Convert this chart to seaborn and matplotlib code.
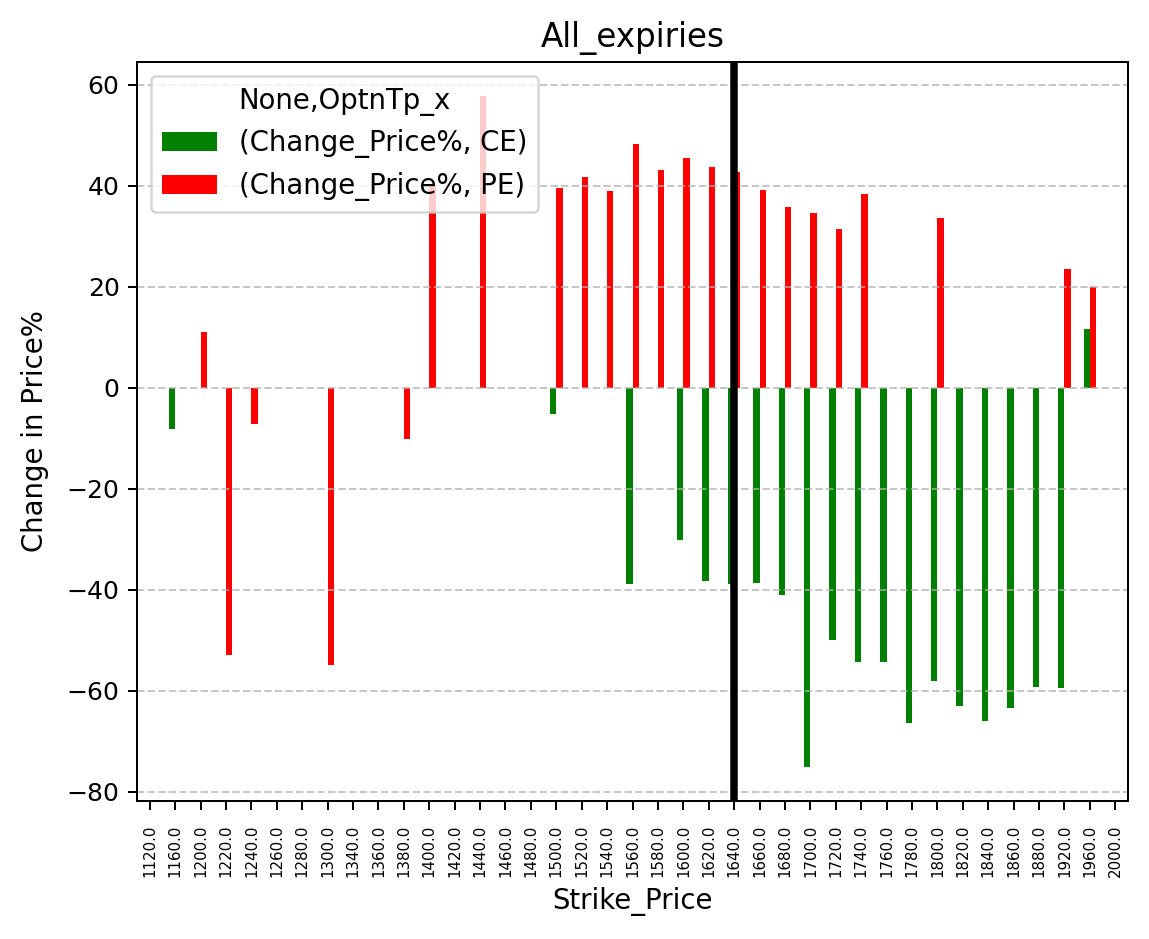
import numpy as np
import pandas as pd
import matplotlib
matplotlib.use("Agg")
import matplotlib.pyplot as plt
import seaborn as sns

# --- data ---
strikes = [1120, 1160, 1200, 1220, 1240, 1260, 1280, 1300, 1340, 1360,
           1380, 1400, 1420, 1440, 1460, 1480, 1500, 1520, 1540, 1560,
           1580, 1600, 1620, 1640, 1660, 1680, 1700, 1720, 1740, 1760,
           1780, 1800, 1820, 1840, 1860, 1880, 1920, 1960, 2000]
nan = np.nan
ce_change = [nan, -8.1, nan, nan, nan, nan, nan, nan, nan, nan,
             nan, nan, nan, nan, nan, nan, -5.1, nan, nan, -38.8,
             nan, -30.1, -38.2, -38.8, -38.6, -41.0, -75.2, -49.9, -54.3, -54.3,
             -66.5, -58.0, -63.0, -66.1, -63.4, -59.2, -59.4, 11.7, nan]
pe_change = [nan, nan, 11.1, -52.9, -7.1, nan, nan, -55.0, nan, nan,
             -10.2, 40.0, nan, 57.9, nan, nan, 39.5, 41.8, 38.9, 48.4,
             43.2, 45.6, 43.8, 42.8, 39.1, 35.9, 34.7, 31.5, 38.5, nan,
             nan, 33.7, nan, nan, nan, nan, 23.6, 19.9, nan]
series_names = ["(Change_Price%, CE)", "(Change_Price%, PE)"]
atm_strike = 1640

labels = [f"{float(s):.1f}" for s in strikes]
df = pd.DataFrame({
    "Strike_Price": labels * 2,
    "Change": ce_change + pe_change,
    "OptnTp_x": [series_names[0]] * len(strikes) + [series_names[1]] * len(strikes),
})

fig = plt.figure(figsize=(1149 / 180, 939 / 180), dpi=180)
ax = fig.add_axes([137 / 1149, 1 - 801 / 939, (1128 - 137) / 1149, (801 - 62) / 939])

sns.barplot(data=df, x="Strike_Price", y="Change", hue="OptnTp_x",
            order=labels, hue_order=series_names, palette=["green", "red"],
            width=0.5, errorbar=None, saturation=1, linewidth=0, ax=ax)

# at-the-money strike
ax.axvline(labels.index(f"{float(atm_strike):.1f}"), color="black", linewidth=3)
ax.grid(axis="y", linestyle="--", alpha=0.7)
ax.set_title("All_expiries", fontsize=13)
ax.set_xlabel("Strike_Price", fontsize=11)
ax.set_ylabel("Change in Price%", fontsize=11, labelpad=7)
ax.tick_params(axis="x", labelrotation=90, labelsize=6, pad=6)
sns.move_legend(ax, "upper left", title="None,OptnTp_x", fontsize=11, title_fontsize=11)

fig.savefig("out.png", dpi=180)
